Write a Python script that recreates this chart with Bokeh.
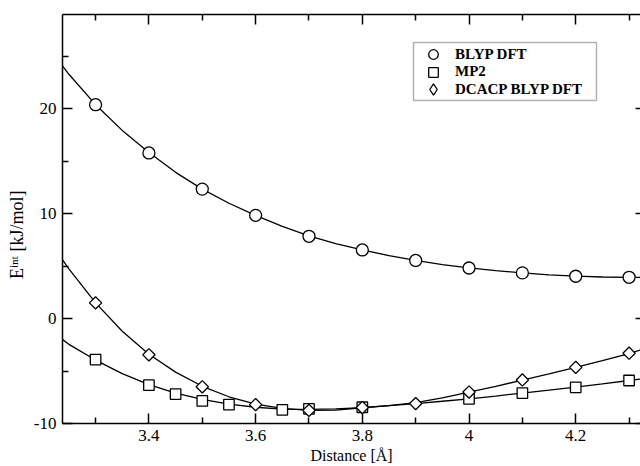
from math import pi
from bokeh.plotting import figure
from bokeh.models import (LinearAxis, FixedTicker, Range1d, Legend, LegendItem,
                          BoxAnnotation, CustomJSTickFormatter)
from bokeh.embed import file_html
from bokeh.resources import INLINE

# ---- data ----
blyp_x = [3.3, 3.4, 3.5, 3.6, 3.7, 3.8, 3.9, 4.0, 4.1, 4.2, 4.3]
blyp_y = [20.4, 15.8, 12.35, 9.85, 7.85, 6.55, 5.55, 4.83, 4.36, 4.04, 3.94]

mp2_x = [3.3, 3.4, 3.45, 3.5, 3.55, 3.65, 3.7, 3.8, 4.0, 4.1, 4.2, 4.3]
mp2_y = [-3.9, -6.35, -7.2, -7.85, -8.2, -8.7, -8.6, -8.45, -7.65, -7.1, -6.55, -5.9]

dcacp_x = [3.3, 3.4, 3.5, 3.6, 3.7, 3.8, 3.9, 4.0, 4.1, 4.2, 4.3]
dcacp_y = [1.5, -3.45, -6.5, -8.2, -8.75, -8.48, -8.1, -7.0, -5.85, -4.65, -3.3]

# fitted curves
fit_x = [3.238, 3.25, 3.3, 3.35, 3.4, 3.45, 3.5, 3.55, 3.6, 3.65, 3.7, 3.75,
         3.8, 3.85, 3.9, 3.95, 4.0, 4.05, 4.1, 4.15, 4.2, 4.25, 4.3, 4.321]
blyp_fit = [24.1, 23.3, 20.4, 17.95, 15.85, 13.95, 12.35, 11.0, 9.85, 8.8, 7.9, 7.15,
            6.55, 6.0, 5.55, 5.15, 4.83, 4.57, 4.36, 4.18, 4.05, 3.97, 3.93, 3.93]
mp2_fit = [-2.0, -2.45, -3.95, -5.25, -6.3, -7.1, -7.7, -8.15, -8.45, -8.62, -8.65, -8.6,
           -8.48, -8.3, -8.1, -7.88, -7.65, -7.38, -7.1, -6.82, -6.53, -6.22, -5.9, -5.77]
dcacp_fit = [5.6, 4.75, 1.5, -1.2, -3.4, -5.1, -6.45, -7.45, -8.15, -8.55, -8.75, -8.72,
             -8.5, -8.3, -8.0, -7.55, -7.0, -6.45, -5.87, -5.27, -4.65, -4.0, -3.33, -3.0]

series_labels = ["BLYP DFT", "MP2", "DCACP BLYP DFT"]

x_major = [3.4, 3.6, 3.8, 4.0, 4.2]
x_minor = [3.3, 3.5, 3.7, 3.9, 4.1, 4.3]
y_major = [-10, 0, 10, 20]
y_minor = [-5, 5, 15, 25]

X_MIN, X_MAX = 3.238, 4.3214
Y_MIN, Y_MAX = -10, 29

FONT = "Liberation Serif"

p = figure(width=640, height=466, output_backend="svg", toolbar_location=None,
           x_range=Range1d(X_MIN, X_MAX), y_range=Range1d(Y_MIN, Y_MAX),
           min_border_left=62, min_border_right=0, min_border_top=14,
           min_border_bottom=42)
p.grid.visible = False
p.outline_line_color = None
p.background_fill_color = "white"
p.border_fill_color = "white"


def style_axis(ax, major, minor, labels=True):
    ax.ticker = FixedTicker(ticks=major, minor_ticks=minor)
    ax.axis_line_color = "black"
    ax.axis_line_width = 1.5
    ax.major_tick_in = 10
    ax.major_tick_out = 0
    ax.minor_tick_in = 6
    ax.minor_tick_out = 0
    ax.major_tick_line_color = "black"
    ax.minor_tick_line_color = "black"
    ax.major_tick_line_width = 1.5
    ax.minor_tick_line_width = 1.5
    ax.major_label_text_font = FONT
    ax.major_label_text_font_size = "17px"
    ax.major_label_text_color = "black"
    ax.axis_label_text_font = FONT
    ax.axis_label_text_font_style = "normal"
    ax.axis_label_text_font_size = "16px"
    ax.axis_label_text_color = "black"
    if not labels:
        ax.formatter = CustomJSTickFormatter(code="return ''")
        ax.major_label_standoff = 0


xb = p.xaxis[0]
style_axis(xb, x_major, x_minor)
xb.major_label_overrides = {4: "4"}
xb.major_label_standoff = 6
xb.axis_label = "Distance [Å]"
xb.axis_label_standoff = 3

yl = p.yaxis[0]
style_axis(yl, y_major, y_minor)
yl.major_label_overrides = {-10: "-10", 0: "0", 10: "10", 20: "20"}
yl.major_label_standoff = 6
# trailing no-break spaces shift the centred title toward the bottom, as in the reference
yl.axis_label = "Eⁱⁿᵗ [kJ/mol]" + "\u00a0" * 7
yl.axis_label_text_font_size = "18px"
yl.axis_label_standoff = 4

xt = LinearAxis()
style_axis(xt, x_major, x_minor, labels=False)
p.add_layout(xt, "above")

yr = LinearAxis()
style_axis(yr, y_major, y_minor, labels=False)
yr.axis_line_color = None
yr.major_tick_in = 5
yr.minor_tick_in = 0
p.add_layout(yr, "right")

# curves
for fy in (blyp_fit, mp2_fit, dcacp_fit):
    p.line(fit_x, fy, line_color="black", line_width=1.3)

r1 = p.scatter(blyp_x, blyp_y, marker="circle", size=12, fill_color="white",
               line_color="black", line_width=1.3)
r2 = p.scatter(mp2_x, mp2_y, marker="square", size=10.5, fill_color="white",
               line_color="black", line_width=1.3)
r3 = p.scatter(dcacp_x, dcacp_y, marker="square", angle=pi / 4, size=8.7,
               fill_color="white", line_color="black", line_width=1.3)
# legend-only stand-in for the diamond symbol (legend glyphs ignore angle);
# size 0 keeps it invisible in the plot area
r3_key = p.scatter(dcacp_x, dcacp_y, marker="diamond", size=0, fill_color="white",
                   line_color="black", line_width=1.3)

# legend: framed box, one row per series
p.add_layout(BoxAnnotation(left=351, right=534, bottom=323, top=381,
                           left_units="screen", right_units="screen",
                           bottom_units="screen", top_units="screen",
                           fill_color="white", fill_alpha=1,
                           line_color="black", line_width=1.5))

rows = [(r1, series_labels[0], 357, 24), (r2, series_labels[1], 339.5, 24),
        (r3_key, series_labels[2], 320, 28)]
for rend, lab, yb, gh in rows:
    lg = Legend(items=[LegendItem(label=lab, renderers=[rend])],
                location=(353, yb), orientation="vertical",
                glyph_width=36, glyph_height=gh, spacing=0, padding=0, margin=0,
                label_standoff=4, label_height=16,
                label_text_font=FONT, label_text_font_style="bold",
                label_text_font_size="15px", label_text_color="black",
                border_line_color=None, background_fill_alpha=0)
    p.add_layout(lg)

open("out.html", "w").write(file_html(p, INLINE))
